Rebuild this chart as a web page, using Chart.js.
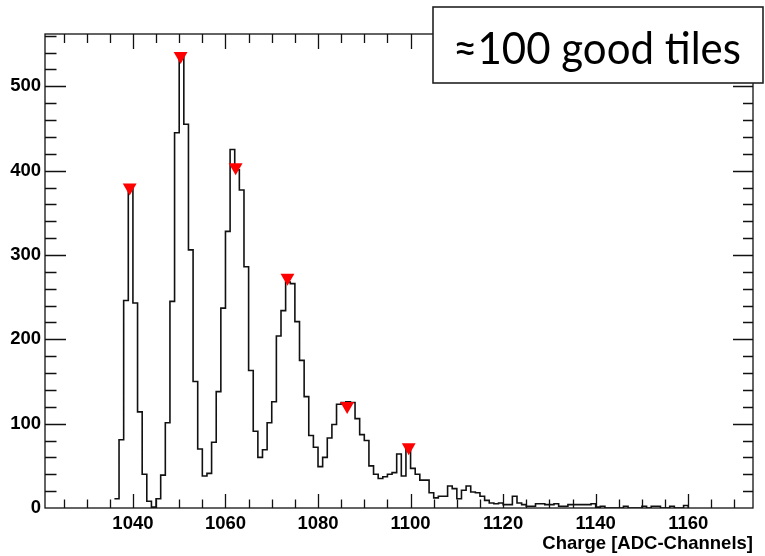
<!DOCTYPE html>
<html>
<head>
<meta charset="utf-8">
<script src="https://cdn.jsdelivr.net/npm/chart.js@4"></script>
<style>
  html, body { margin: 0; padding: 0; background: #fff; }
  #wrap { width: 765px; height: 556px; }
</style>
</head>
<body>
<div id="wrap"><canvas id="c" width="765" height="556"></canvas></div>
<script>
// ---- data ----
// lower edges of the 1-channel bins
const binLowEdges = [
  1036,1037,1038,1039,1040,1041,1042,1043,1044,1045,1046,1047,1048,1049,1050,1051,1052,1053,1054,1055,
  1056,1057,1058,1059,1060,1061,1062,1063,1064,1065,1066,1067,1068,1069,1070,1071,1072,1073,1074,1075,
  1076,1077,1078,1079,1080,1081,1082,1083,1084,1085,1086,1087,1088,1089,1090,1091,1092,1093,1094,1095,
  1096,1097,1098,1099,1100,1101,1102,1103,1104,1105,1106,1107,1108,1109,1110,1111,1112,1113,1114,1115,
  1116,1117,1118,1119,1120,1121,1122,1123,1124,1125,1126,1127,1128,1129,1130,1131,1132,1133,1134,1135,
  1136,1137,1138,1139,1140,1141,1142,1143,1144,1145,1146,1147,1148,1149,1150,1151,1152,1153,1154,1155,
  1156,1157,1158,1159
];
const binWidth = 1;
const counts = [
  11,81,246,379,243,114,40,8,1,11,39,101,245,445,536,455,306,150,70,38,
  41,78,138,237,328,425,401,377,286,163,91,60,69,101,126,204,234,268,266,221,
  175,132,86,72,49,60,83,99,123,125,126,125,106,87,80,50,40,35,37,40,
  42,64,38,72,47,40,33,33,18,12,14,14,26,23,11,21,26,19,18,14,
  9,6,5,6,4,4,14,6,4,2,2,5,5,4,4,5,2,2,4,4,
  4,4,4,5,1,2,0,0,0,0,2,0,0,0,2,0,2,2,0,0,
  2,0,0,3
];
// peaks found (red markers)
const peakPositions = [1039.3, 1050.3, 1062.2, 1073.4, 1086.3, 1099.6];
const peakHeights   = [380, 536, 404, 273, 121, 72];

const xRange = [1021, 1174];
const yRange = [0, 562];
const xTickLabels = [1040, 1060, 1080, 1100, 1120, 1140, 1160];
const yTickLabels = [0, 100, 200, 300, 400, 500];
const xTitle = 'Charge [ADC-Channels]';
const boxText = '\u2248100 good tiles';

// ---- build histogram outline points (left edges + closing right edge) ----
const histPoints = binLowEdges.map((e, i) => ({ x: e, y: counts[i] }));
histPoints.push({ x: binLowEdges[binLowEdges.length - 1] + binWidth, y: 0 });
const peakPoints = peakPositions.map((p, i) => ({ x: p, y: peakHeights[i] }));

// ---- ROOT-like frame with inward ticks on all 4 sides ----
const frameTicks = {
  id: 'frameTicks',
  afterDatasetsDraw(chart) {
    const { ctx, chartArea: a, scales } = chart;
    const xs = scales.x, ys = scales.y;
    ctx.save();
    ctx.strokeStyle = '#111';
    ctx.lineWidth = 1.3;
    ctx.beginPath();
    const seg = (x1, y1, x2, y2) => { ctx.moveTo(x1, y1); ctx.lineTo(x2, y2); };
    for (let v = Math.ceil(xRange[0] / 5) * 5; v <= xRange[1]; v += 5) {
      const px = Math.round(xs.getPixelForValue(v)) + 0.5;
      const major = v % 20 === 0;
      seg(px, a.bottom, px, a.bottom - (major ? 14 : 8.5));
      seg(px, a.top, px, a.top + (major ? 15 : 9));
    }
    for (let v = 20; v <= yRange[1]; v += 20) {
      const py = Math.round(ys.getPixelForValue(v)) + 0.5;
      const major = v % 100 === 0;
      seg(a.left, py, a.left + (major ? 21 : 11.5), py);
      seg(a.right, py, a.right - (major ? 20 : 10), py);
    }
    ctx.stroke();
    ctx.strokeRect(a.left, a.top, a.right - a.left, a.bottom - a.top);
    ctx.restore();
  },
  afterDraw(chart) {
    const { ctx } = chart;
    ctx.save();
    const bx = 433, by = 7, bw = 330, bh = 76;
    ctx.fillStyle = '#fff';
    ctx.fillRect(bx, by, bw, bh);
    ctx.strokeStyle = '#222';
    ctx.lineWidth = 1.6;
    ctx.strokeRect(bx, by, bw, bh);
    ctx.fillStyle = '#000';
    ctx.font = '44px Lato, "Open Sans", sans-serif';
    ctx.textBaseline = 'alphabetic';
    ctx.textAlign = 'left';
    const w = ctx.measureText(boxText).width;
    ctx.translate(453, 63.5);
    ctx.scale(288 / w, 1);
    ctx.fillText(boxText, 0, 0);
    ctx.restore();
  }
};

const tickFont = { family: '"Liberation Sans", Arial, sans-serif', weight: 'bold', size: 18.5 };

new Chart(document.getElementById('c'), {
  type: 'line',
  data: {
    datasets: [
      {
        label: 'hist',
        data: histPoints,
        stepped: 'before',
        borderColor: '#111',
        borderWidth: 1.6,
        pointRadius: 0,
        fill: false,
        tension: 0,
        order: 1
      },
      {
        label: 'peaks',
        type: 'scatter',
        data: peakPoints,
        pointStyle: 'triangle',
        rotation: 180,
        pointRadius: 8,
        backgroundColor: '#ff0000',
        borderColor: '#ff0000',
        borderWidth: 0,
        showLine: false,
        order: 0
      }
    ]
  },
  options: {
    responsive: false,
    animation: false,
    devicePixelRatio: 1,
    layout: { padding: { top: 34, right: 12, bottom: 0, left: 0 } },
    plugins: { legend: { display: false }, tooltip: { enabled: false } },
    scales: {
      x: {
        type: 'linear',
        min: xRange[0], max: xRange[1],
        afterBuildTicks: s => { s.ticks = xTickLabels.map(v => ({ value: v })); },
        afterFit: s => { s.height = 48; },
        grid: { display: false, drawTicks: false },
        border: { display: false },
        ticks: { font: tickFont, color: '#000', padding: 5, maxRotation: 0, autoSkip: false,
                 callback: v => String(v) },
        title: { display: true, text: xTitle, align: 'end', color: '#000',
                 font: { family: '"Liberation Sans", Arial, sans-serif', weight: 'bold', size: 18.5 },
                 padding: { top: 0, bottom: 1 } }
      },
      y: {
        type: 'linear',
        min: yRange[0], max: yRange[1],
        afterBuildTicks: s => { s.ticks = yTickLabels.map(v => ({ value: v })); },
        afterFit: s => { s.width = 45; },
        grid: { display: false, drawTicks: false },
        border: { display: false },
        ticks: { font: tickFont, color: '#000', padding: 4, autoSkip: false, callback: v => String(v) }
      }
    }
  },
  plugins: [frameTicks]
});
</script>
</body>
</html>
